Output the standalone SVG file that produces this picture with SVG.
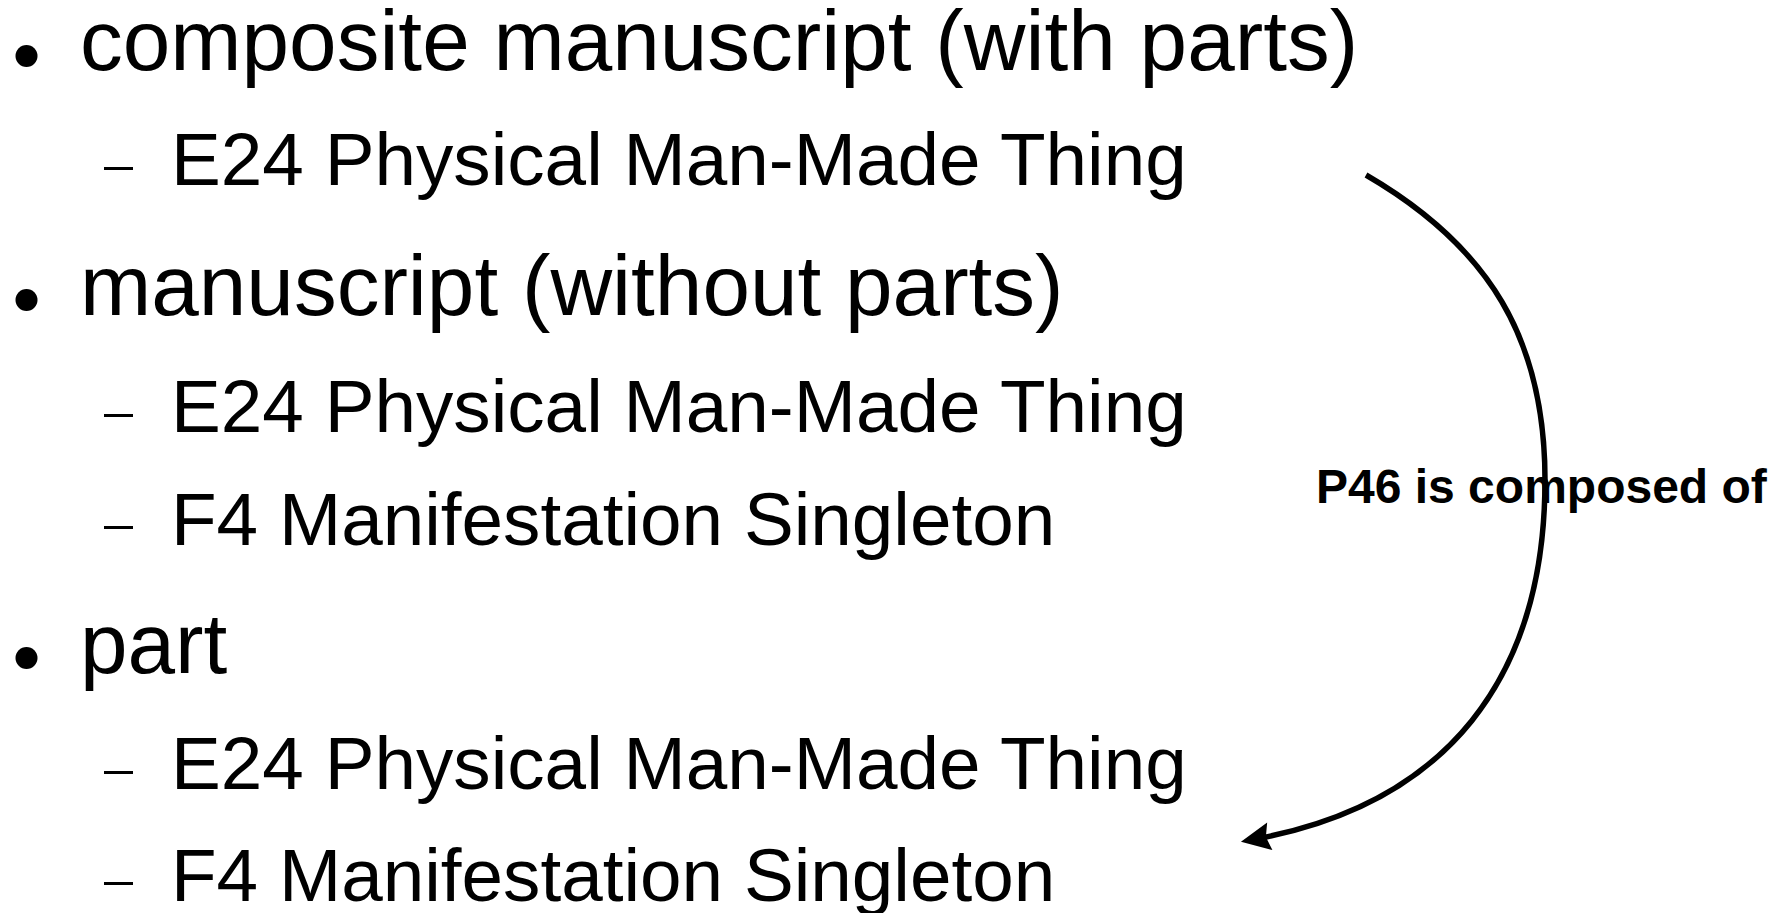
<svg xmlns="http://www.w3.org/2000/svg" width="1783" height="913" viewBox="0 0 1783 913">
  <style>
    .main { font-family: "Liberation Sans", Arial, sans-serif; font-size: 85.5px; fill: #000; }
    .sub { font-family: "Liberation Sans", Arial, sans-serif; font-size: 74.7px; fill: #000; }
    .lbl { font-family: "Liberation Sans", Arial, sans-serif; font-size: 48px; font-weight: bold; fill: #000; }
    .bullet { fill: #000; }
    .dash { fill: #000; }
    .conn { fill: none; stroke: #000; stroke-width: 5.5; }
  </style>
  <defs>
    <marker id="arrow" markerUnits="userSpaceOnUse" markerWidth="40" markerHeight="40" viewBox="-12 -14 30 28" refX="0" refY="0" orient="auto" overflow="visible">
      <path d="M13,0 L-9,-10.5 L-6,0 L-9,10.5 Z" fill="#000"/>
    </marker>
  </defs>
  <rect width="1783" height="913" fill="#fff"/>

  <g id="item-composite">
    <circle class="bullet" cx="26.5" cy="56" r="11"/>
    <text class="main" x="80" y="70">composite manuscript (with parts)</text>
  </g>
  <g id="item-composite-e24">
    <rect class="dash" x="104" y="167" width="29" height="3"/>
    <text class="sub" x="171" y="185">E24 Physical Man-Made Thing</text>
  </g>
  <g id="item-manuscript">
    <circle class="bullet" cx="26.5" cy="300" r="11"/>
    <text class="main" x="80" y="315">manuscript (without parts)</text>
  </g>
  <g id="item-manuscript-e24">
    <rect class="dash" x="104" y="414" width="29" height="3"/>
    <text class="sub" x="171" y="432">E24 Physical Man-Made Thing</text>
  </g>
  <g id="item-manuscript-f4">
    <rect class="dash" x="104" y="526" width="29" height="3"/>
    <text class="sub" x="171" y="545">F4 Manifestation Singleton</text>
  </g>
  <g id="item-part">
    <circle class="bullet" cx="26.5" cy="658" r="11"/>
    <text class="main" x="80" y="673">part</text>
  </g>
  <g id="item-part-e24">
    <rect class="dash" x="104" y="771" width="29" height="3"/>
    <text class="sub" x="171" y="789">E24 Physical Man-Made Thing</text>
  </g>
  <g id="item-part-f4">
    <rect class="dash" x="104" y="882" width="29" height="3"/>
    <text class="sub" x="171" y="901">F4 Manifestation Singleton</text>
  </g>

  <g id="label-p46">
    <text class="lbl" x="1316" y="503">P46 is composed of</text>
  </g>

  <g id="connectors">
    <path class="conn" d="M1366,175 C1490,247 1545,340 1545,480 C1545,680 1445,803 1258,838.6" marker-end="url(#arrow)"/>
  </g>
</svg>
